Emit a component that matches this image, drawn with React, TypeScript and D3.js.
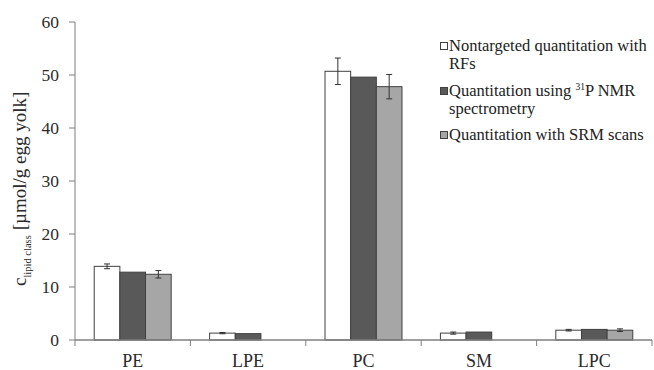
import React, { useRef, useEffect } from "react";
import * as d3 from "d3";

const categories = ["PE", "LPE", "PC", "SM", "LPC"];
const rfValues = [13.9, 1.3, 50.7, 1.3, 1.85];
const rfErrors = [0.45, 0.12, 2.5, 0.2, 0.15];
const nmrValues = [12.8, 1.2, 49.6, 1.5, 2.0];
const srmValues = [12.4, 0, 47.8, 0, 1.85];
const srmErrors = [0.7, 0, 2.3, 0, 0.25];
const yTicks = [0, 10, 20, 30, 40, 50, 60];

const fills = ["#ffffff", "#595959", "#a6a6a6"];

const App = () => {
  const svgRef = useRef<SVGSVGElement>(null);

  useEffect(() => {
    const width = 654;
    const height = 370;
    const margin = { top: 22, right: 2, bottom: 30, left: 75 };
    const svg = d3.select(svgRef.current);
    svg.selectAll("*").remove();
    const g = svg.append("g").attr("transform", `translate(${margin.left},${margin.top})`);
    const w = width - margin.left - margin.right;
    const h = height - margin.top - margin.bottom;

    const x = d3.scaleBand().domain(categories).range([0, w]).paddingInner(0.333).paddingOuter(0.1665);
    const sub = d3.scaleBand().domain(["0", "1", "2"]).range([0, x.bandwidth()]);
    const y = d3.scaleLinear().domain([0, 60]).range([h, 0]);

    const font = "Liberation Serif";
    const axisColor = "#7f7f7f";
    const textColor = "#2b2b2b";

    // y axis
    g.append("line").attr("x1", 0).attr("x2", 0).attr("y1", y(0)).attr("y2", y(60)).attr("stroke", axisColor);
    yTicks.forEach((t) => {
      g.append("line").attr("x1", -6).attr("x2", 0).attr("y1", y(t)).attr("y2", y(t)).attr("stroke", axisColor);
      g.append("text").attr("x", -16).attr("y", y(t)).attr("dy", "0.35em").attr("text-anchor", "end")
        .attr("font-family", font).attr("font-size", 17.5).attr("fill", textColor).text(t);
    });

    const series = [rfValues, nmrValues, srmValues];
    const errors = [rfErrors, null, srmErrors];

    categories.forEach((c, i) => {
      series.forEach((vals, s) => {
        const v = vals[i];
        if (v <= 0) return;
        const bx = (x(c) as number) + (sub(String(s)) as number);
        g.append("rect").attr("x", bx).attr("y", y(v)).attr("width", sub.bandwidth()).attr("height", y(0) - y(v))
          .attr("fill", fills[s]).attr("stroke", "#404040").attr("stroke-width", 1);
        const errs = errors[s];
        if (errs && errs[i] > 0) {
          const cx = bx + sub.bandwidth() / 2;
          const e = errs[i];
          const eg = g.append("g").attr("stroke", "#333").attr("stroke-width", 1);
          eg.append("line").attr("x1", cx).attr("x2", cx).attr("y1", y(v + e)).attr("y2", y(v - e));
          eg.append("line").attr("x1", cx - 3).attr("x2", cx + 3).attr("y1", y(v + e)).attr("y2", y(v + e));
          eg.append("line").attr("x1", cx - 3).attr("x2", cx + 3).attr("y1", y(v - e)).attr("y2", y(v - e));
        }
      });
    });

    // x axis
    g.append("line").attr("x1", 0).attr("x2", w).attr("y1", y(0)).attr("y2", y(0)).attr("stroke", axisColor).attr("stroke-width", 1.5);
    const step = x.step();
    for (let k = 0; k <= categories.length; k++) {
      g.append("line").attr("x1", k * step).attr("x2", k * step).attr("y1", y(0)).attr("y2", y(0) + 6).attr("stroke", axisColor);
    }
    categories.forEach((c) => {
      g.append("text").attr("x", (x(c) as number) + x.bandwidth() / 2).attr("y", y(0) + 27).attr("text-anchor", "middle")
        .attr("font-family", font).attr("font-size", 18).attr("fill", textColor).text(c);
    });

    // y label
    const yl = svg.append("text").attr("transform", "translate(26,286) rotate(-90)")
      .attr("text-anchor", "start").attr("font-family", font).attr("font-size", 19).attr("fill", textColor);
    yl.append("tspan").text("c");
    yl.append("tspan").attr("font-size", 10.5).attr("dy", 5).text("lipid class");
    yl.append("tspan").attr("dy", -5).attr("dx", 5).text("[µmol/g egg yolk]");

    // legend
    const legend = svg.append("g").attr("font-family", font).attr("font-size", 16.5).attr("fill", "#222");
    const items = [
      { lines: [["Nontargeted quantitation with"], ["RFs"]], y: 51 },
      { lines: [["Quantitation using ", "31", "P NMR"], ["spectrometry"]], y: 96 },
      { lines: [["Quantitation with SRM scans"]], y: 140 },
    ];
    items.forEach((it, s) => {
      legend.append("rect").attr("x", 440.5).attr("y", it.y - 8.5).attr("width", 7).attr("height", 7)
        .attr("fill", fills[s]).attr("stroke", "#404040").attr("stroke-width", 1);
      it.lines.forEach((parts, li) => {
        const t = legend.append("text").attr("x", 449).attr("y", it.y + li * 18);
        if (parts.length === 1) {
          t.text(parts[0]);
        } else {
          t.append("tspan").text(parts[0]);
          t.append("tspan").attr("font-size", 9.5).attr("dy", -6).text(parts[1]);
          t.append("tspan").attr("dy", 6).text(parts[2]);
        }
      });
    });
  }, []);

  return (
    <div style={{ position: "absolute", left: 0, top: 0 }}>
      <svg ref={svgRef} width={654} height={370} style={{ display: "block", background: "#fff" }} />
    </div>
  );
};

export default App;
